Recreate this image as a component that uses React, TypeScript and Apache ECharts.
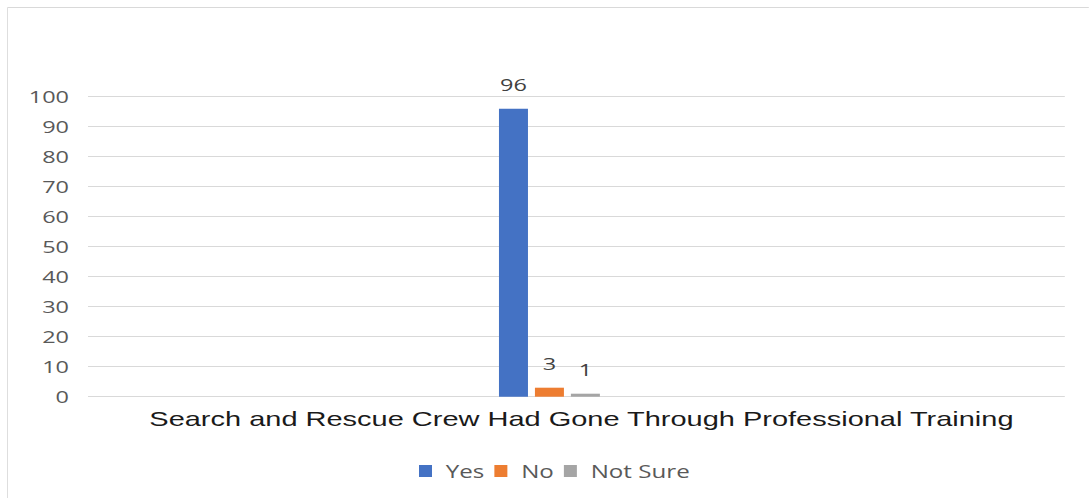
import React, { useEffect, useRef } from "react";
import * as echarts from "echarts";

const categories = ["Search and Rescue Crew Had Gone Through Professional Training"];
const seriesNames = ["Yes", "No", "Not Sure"];
const yesValues = [96];
const noValues = [3];
const notSureValues = [1];
const seriesColors = ["#4472C4", "#ED7D31", "#A5A5A5"];
const yTicks = { min: 0, max: 100, interval: 10 };

// The chart is laid out on a narrower canvas and widened horizontally,
// which gives the text its broad, stretched look.
const STRETCH = 1.38;
const W = 1089;
const H = 498;
const sx = (px: number) => px / STRETCH;

export default function App() {
  const ref = useRef<HTMLDivElement>(null);

  useEffect(() => {
    if (!ref.current) return;
    const chart = echarts.init(ref.current, null, { renderer: "svg" });
    const font = "'Open Sans', 'Liberation Sans', sans-serif";
    const valueLabel = {
      show: true,
      position: "top",
      distance: 16,
      color: "#404040",
      fontSize: 17,
      fontFamily: font,
    };
    const values = [yesValues, noValues, notSureValues];
    const bars = seriesNames.map((name, i) => ({
      name,
      type: "bar",
      data: values[i],
      barWidth: sx(29),
      barGap: "24%",
      itemStyle: { color: seriesColors[i] },
      label: valueLabel,
    }));
    // empty trailing slot so the cluster sits left of the band centre
    const spacer = {
      name: "spacer",
      type: "bar",
      data: [0],
      barWidth: sx(47),
      silent: true,
      itemStyle: { color: "transparent" },
      label: { show: false },
    };

    chart.setOption({
      animation: false,
      backgroundColor: "#ffffff",
      textStyle: { fontFamily: font },
      graphic: [
        {
          type: "line",
          shape: { x1: sx(7.5), y1: 7.5, x2: sx(W), y2: 7.5 },
          style: { stroke: "#d9d9d9", lineWidth: 1 },
          silent: true,
        },
        {
          type: "line",
          shape: { x1: sx(7.5), y1: 7.5, x2: sx(7.5), y2: H },
          style: { stroke: "#d9d9d9", lineWidth: 1 / STRETCH },
          silent: true,
        },
      ],
      grid: { left: sx(88), right: sx(24), top: 96.7, bottom: 101.3, containLabel: false },
      legend: {
        data: seriesNames,
        bottom: 13,
        left: sx(419) - 5,
        itemWidth: sx(13),
        itemHeight: 12,
        itemGap: sx(10),
        icon: "rect",
        textStyle: { color: "#595959", fontSize: 17.5, fontFamily: font, padding: [0, 0, 0, 5] },
      },
      xAxis: {
        type: "category",
        data: categories,
        axisLine: { show: false },
        axisTick: { show: false },
        axisLabel: {
          color: "#1a1a1a",
          fontSize: 21,
          fontFamily: "'Liberation Sans', Arial, sans-serif",
          margin: 11,
          padding: [0, 0, 0, sx(10)],
        },
      },
      yAxis: {
        type: "value",
        min: yTicks.min,
        max: yTicks.max,
        interval: yTicks.interval,
        axisLine: { show: false },
        axisTick: { show: false },
        splitLine: { lineStyle: { color: "#d9d9d9", width: 1 } },
        axisLabel: { color: "#595959", fontSize: 17, fontFamily: font, margin: sx(19) },
      },
      series: [...bars, spacer],
    });
    return () => chart.dispose();
  }, []);

  return (
    <div style={{ position: "absolute", left: 0, top: 0, width: W, height: H, overflow: "hidden" }}>
      <div
        ref={ref}
        style={{
          width: sx(W),
          height: H,
          transform: `scaleX(${STRETCH})`,
          transformOrigin: "0 0",
        }}
      />
    </div>
  );
}
